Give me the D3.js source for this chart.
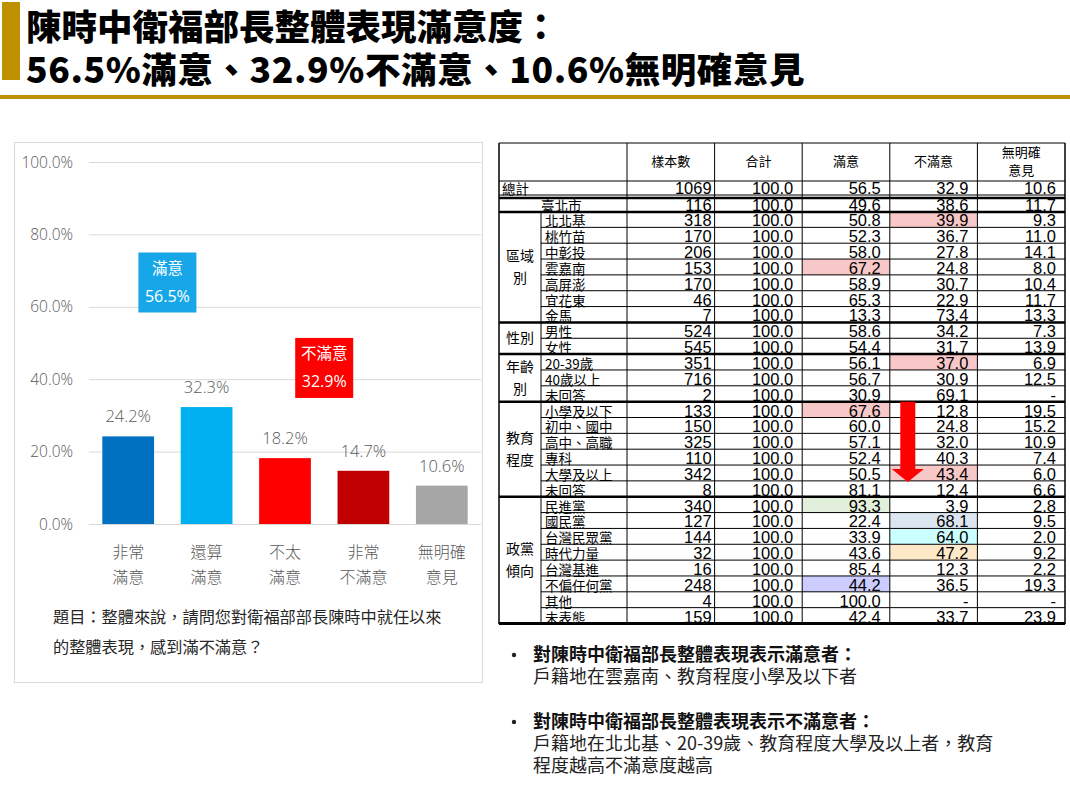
<!DOCTYPE html>
<html><head><meta charset="utf-8">
<script src="https://cdn.jsdelivr.net/npm/d3@7"></script>
<style>
body{margin:0;background:#fff;}
svg{display:block;}
</style></head><body>
<svg id="c" width="1070" height="799"></svg>
<script>
// ---------- DATA ----------
const titleLines = ["陳時中衛福部長整體表現滿意度：", "56.5%滿意、32.9%不滿意、10.6%無明確意見"];

const barCategories = [["非常","滿意"],["還算","滿意"],["不太","滿意"],["非常","不滿意"],["無明確","意見"]];
const barValues = [24.2, 32.3, 18.2, 14.7, 10.6];
const yTickValues = [0, 20, 40, 60, 80, 100];
const calloutLabels = ["滿意", "不滿意"];
const calloutValues = [56.5, 32.9];
const questionLines = ["題目：整體來說，請問您對衛福部部長陳時中就任以來", "的整體表現，感到滿不滿意？"];

const tableHeaders = [["樣本數"], ["合計"], ["滿意"], ["不滿意"], ["無明確", "意見"]];
const rowLabels = ["總計","臺北市","北北基","桃竹苗","中彰投","雲嘉南","高屏澎","宜花東","金馬",
  "男性","女性","20-39歲","40歲以上","未回答",
  "小學及以下","初中、國中","高中、高職","專科","大學及以上","未回答",
  "民進黨","國民黨","台灣民眾黨","時代力量","台灣基進","不偏任何黨","其他","未表態"];
const sampleSizes = [1069,116,318,170,206,153,170,46,7,524,545,351,716,2,133,150,325,110,342,8,340,127,144,32,16,248,4,159];
const totalPct = ["100.0","100.0","100.0","100.0","100.0","100.0","100.0","100.0","100.0","100.0","100.0","100.0","100.0","100.0",
  "100.0","100.0","100.0","100.0","100.0","100.0","100.0","100.0","100.0","100.0","100.0","100.0","100.0","100.0"];
const satisfiedPct = ["56.5","49.6","50.8","52.3","58.0","67.2","58.9","65.3","13.3","58.6","54.4","56.1","56.7","30.9",
  "67.6","60.0","57.1","52.4","50.5","81.1","93.3","22.4","33.9","43.6","85.4","44.2","100.0","42.4"];
const dissatisfiedPct = ["32.9","38.6","39.9","36.7","27.8","24.8","30.7","22.9","73.4","34.2","31.7","37.0","30.9","69.1",
  "12.8","24.8","32.0","40.3","43.4","12.4","3.9","68.1","64.0","47.2","12.3","36.5","-","33.7"];
const noOpinionPct = ["10.6","11.7","9.3","11.0","14.1","8.0","10.4","11.7","13.3","7.3","13.9","6.9","12.5","-",
  "19.5","15.2","10.9","7.4","6.0","6.6","2.8","9.5","2.0","9.2","2.2","19.3","-","23.9"];
const groupLabels = [["區域","別"], ["性別"], ["年齡","別"], ["教育","程度"], ["政黨","傾向"]];
const groupFirstRow = [2, 9, 11, 14, 20];
const groupLastRow = [8, 10, 13, 19, 27];
// highlighted cells: [row, column]
const highlightRows = [5, 2, 11, 14, 18, 20, 21, 22, 23, 25];
const highlightCols = [2, 3, 3, 2, 3, 2, 3, 3, 3, 2];

const bulletHeads = ["對陳時中衛福部長整體表現表示滿意者：", "對陳時中衛福部長整體表現表示不滿意者："];
const bulletBodies = [["戶籍地在雲嘉南、教育程度小學及以下者"], ["戶籍地在北北基、20-39歲、教育程度大學及以上者，教育", "程度越高不滿意度越高"]];

// ---------- STYLES ----------
const CJK = "'Noto Sans CJK TC','Noto Sans CJK SC',sans-serif";
const NUMF = "'Open Sans','Noto Sans CJK TC',sans-serif";
const GOLD = "#bf9000";
const barColors = ["#0070c0", "#00b0f0", "#ff0000", "#c00000", "#a6a6a6"];
const calloutColors = ["#17a6e8", "#ff0000"];
const highlightColors = ["#f8c8c8","#f8c8c8","#f8c8c8","#f8c8c8","#f8c8c8","#e2efda","#dce6f1","#ccffff","#fde9c8","#ccccff"];
const gray = "#595959";

const svg = d3.select("#c");

// ---------- TITLE ----------
svg.append("rect").attr("x", 2).attr("y", 2).attr("width", 18).attr("height", 78).attr("fill", GOLD);
svg.append("rect").attr("x", 0).attr("y", 95).attr("width", 1070).attr("height", 4).attr("fill", GOLD);
svg.selectAll("text.title").data(titleLines).join("text").attr("class", "title")
  .attr("x", 26).attr("y", (d, i) => 40 + i * 43)
  .attr("font-family", CJK).attr("font-weight", 900).attr("font-size", 35.5)
  .attr("letter-spacing", (d, i) => i === 1 ? 0.6 : 0).attr("fill", "#000")
  .text(d => d);

// ---------- BAR CHART ----------
svg.append("rect").attr("x", 14.5).attr("y", 142.5).attr("width", 468).attr("height", 540)
  .attr("fill", "#fff").attr("stroke", "#d9d9d9").attr("stroke-width", 1);

const x = d3.scaleBand().domain(d3.range(barValues.length)).range([89, 481]).paddingInner(0.34).paddingOuter(0.17);
const y = d3.scaleLinear().domain([0, 100]).range([524, 162]);

const grid = svg.append("g");
grid.selectAll("line").data(yTickValues).join("line")
  .attr("x1", 89).attr("x2", 481).attr("y1", d => y(d) + 0.5).attr("y2", d => y(d) + 0.5)
  .attr("stroke", "#d9d9d9").attr("stroke-width", 1);
grid.selectAll("text").data(yTickValues).join("text")
  .attr("x", 73).attr("y", d => y(d) + 5.5).attr("text-anchor", "end")
  .attr("font-family", NUMF).attr("font-weight", 300).attr("font-size", 15.5).attr("fill", gray)
  .text(d => d3.format(".1f")(d) + "%");

svg.append("g").selectAll("rect").data(barValues).join("rect")
  .attr("x", (d, i) => x(i)).attr("width", x.bandwidth())
  .attr("y", d => y(d)).attr("height", d => y(0) - y(d))
  .attr("fill", (d, i) => barColors[i]);

svg.append("g").selectAll("text").data(barValues).join("text")
  .attr("x", (d, i) => x(i) + x.bandwidth() / 2).attr("y", d => y(d) - 14)
  .attr("text-anchor", "middle").attr("font-family", NUMF).attr("font-weight", 300)
  .attr("font-size", 16.5).attr("fill", gray).text(d => d.toFixed(1) + "%");

const xl = svg.append("g");
barCategories.forEach((lines, i) => {
  lines.forEach((t, j) => {
    xl.append("text").attr("x", x(i) + x.bandwidth() / 2).attr("y", 558 + j * 25)
      .attr("text-anchor", "middle").attr("font-family", CJK).attr("font-weight", 300)
      .attr("font-size", 16).attr("fill", gray).text(t);
  });
});

// callouts (between bars 1-2 and 3-4)
const calloutCenters = [(x(0) + x(1) + x.bandwidth()) / 2, (x(2) + x(3) + x.bandwidth()) / 2];
const calloutTops = [y(75), y(51.4)];
calloutValues.forEach((v, i) => {
  const cx = calloutCenters[i], top = calloutTops[i];
  svg.append("rect").attr("x", cx - 29).attr("y", top).attr("width", 58).attr("height", 60)
    .attr("fill", calloutColors[i]);
  svg.append("text").attr("x", cx).attr("y", top + 21).attr("text-anchor", "middle")
    .attr("font-family", CJK).attr("font-size", 15.5).attr("fill", "#fff").text(calloutLabels[i]);
  svg.append("text").attr("x", cx).attr("y", top + 49).attr("text-anchor", "middle")
    .attr("font-family", NUMF).attr("font-size", 16).attr("fill", "#fff").text(v.toFixed(1) + "%");
});

svg.selectAll("text.q").data(questionLines).join("text").attr("class", "q")
  .attr("x", 53).attr("y", (d, i) => 623 + i * 30)
  .attr("font-family", CJK).attr("font-size", 16.2).attr("fill", "#262626").text(d => d);

// ---------- TABLE ----------
const T = svg.append("g");
const colBand = d3.scaleBand().domain(d3.range(5)).range([627, 1065]);
const rowScale = d3.scaleLinear().domain([2, 28]).range([211.5, 623.5]);
const rowTop = k => k === 0 ? 181 : k === 1 ? 198.5 : rowScale(k);
const rowBottom = k => k === 0 ? 195 : k === 1 ? 211.5 : rowScale(k + 1);
const columns = [sampleSizes.map(String), totalPct, satisfiedPct, dissatisfiedPct, noOpinionPct];
const padRight = [3, 9, 9, 9, 9];

// highlight fills
highlightRows.forEach((r, i) => {
  const c = highlightCols[i];
  T.append("rect").attr("x", colBand(c)).attr("y", rowTop(r)).attr("width", colBand.bandwidth())
    .attr("height", rowBottom(r) - rowTop(r)).attr("fill", highlightColors[i]);
});

// header
tableHeaders.forEach((lines, c) => {
  lines.forEach((t, j) => {
    T.append("text").attr("x", colBand(c) + colBand.bandwidth() / 2)
      .attr("y", (lines.length === 1 ? 165.5 : 156.5 + j * 18))
      .attr("text-anchor", "middle").attr("font-family", CJK).attr("font-size", 13).attr("fill", "#000").text(t);
  });
});

// row labels
rowLabels.forEach((t, k) => {
  const lx = k === 0 ? 502 : k === 1 ? 541 : 545;
  T.append("text").attr("x", lx).attr("y", rowBottom(k) - 1)
    .attr("font-family", CJK).attr("font-size", 13.5).attr("fill", "#000").text(t);
});

// group labels
groupLabels.forEach((lines, g) => {
  const mid = (rowTop(groupFirstRow[g]) + rowBottom(groupLastRow[g])) / 2;
  lines.forEach((t, j) => {
    T.append("text").attr("x", 520).attr("y", mid + 5 + (j - (lines.length - 1) / 2) * 22)
      .attr("text-anchor", "middle").attr("font-family", CJK).attr("font-size", 14).attr("fill", "#000").text(t);
  });
});

// numbers
columns.forEach((vals, c) => {
  vals.forEach((v, k) => {
    T.append("text").attr("x", colBand(c) + colBand.bandwidth() - padRight[c]).attr("y", rowBottom(k) - 1)
      .attr("text-anchor", "end").attr("font-family", "'Liberation Sans',Arial,sans-serif")
      .attr("font-size", 16.5).attr("fill", "#000").text(v);
  });
});

// lines
const L = (x1, y1, x2, y2, w) => T.append("line").attr("x1", x1).attr("y1", y1).attr("x2", x2).attr("y2", y2)
  .attr("stroke", "#000").attr("stroke-width", w);
for (let k = 0; k < rowLabels.length; k++) {
  const inGroup = k >= 2;
  L(inGroup ? 541 : 499, rowBottom(k), 1065, rowBottom(k), 1);
}
L(499, 181, 1065, 181, 1);
L(499, 198, 1065, 198, 2.5);
L(499, 212, 1065, 212, 2.5);
groupLastRow.forEach(r => L(499, rowBottom(r), 1065, rowBottom(r), r === 27 ? 3 : 2.5));
colBand.domain().forEach(c => L(colBand(c), 143, colBand(c), 623, 1));
L(541, 212, 541, 623, 1);
L(499, 143, 499, 624, 1.5);
L(1065, 143, 1065, 624, 1.5);
L(499, 143, 1065, 143, 1);

// arrow
const ax = colBand(3) + 18, aTop = rowTop(14), aHeadY = rowBottom(18) - 12, aTip = rowBottom(18) + 1;
T.append("path").attr("d", d3.line()([[ax - 7.5, aTop], [ax + 7.5, aTop], [ax + 7.5, aHeadY], [ax + 16, aHeadY],
  [ax, aTip], [ax - 16, aHeadY], [ax - 7.5, aHeadY]]) + "Z").attr("fill", "#ff0000");

// ---------- BULLETS ----------
const B = svg.append("g").attr("font-family", CJK).attr("font-size", 18).attr("fill", "#111");
const bulletY = [661, 728];
bulletHeads.forEach((h, i) => {
  B.append("circle").attr("cx", 514).attr("cy", bulletY[i] - 6).attr("r", 2.2).attr("fill", "#222");
  B.append("text").attr("x", 533).attr("y", bulletY[i]).attr("font-weight", 700).text(h);
  bulletBodies[i].forEach((t, j) => {
    B.append("text").attr("x", 533).attr("y", bulletY[i] + 22 + j * 22).attr("fill", "#222").text(t);
  });
});
</script>
</body></html>
